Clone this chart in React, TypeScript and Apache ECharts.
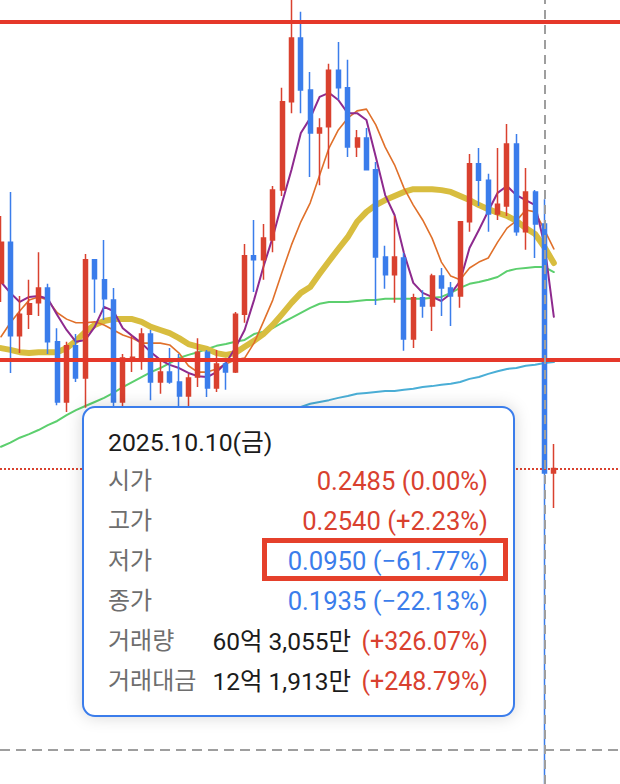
import React, { useEffect, useRef } from "react";
import * as echarts from "echarts";

// OHLC per trading day (index 58 = 2025.10.10)
const opens = [
  0.2355, 0.2445, 0.2238, 0.2286, 0.2311, 0.2344, 0.2225, 0.2092, 0.2216, 0.2145,
  0.2406, 0.2362, 0.2317, 0.2092, 0.2185, 0.2185, 0.2242, 0.2136, 0.2158, 0.2136,
  0.2105, 0.2147, 0.2202, 0.2123, 0.2176, 0.2158, 0.2286, 0.2415, 0.2406, 0.2450,
  0.2560, 0.2755, 0.2896, 0.2781, 0.2686, 0.2700, 0.2825, 0.2786, 0.2655, 0.2675,
  0.2605, 0.2412, 0.2373, 0.2410, 0.2231, 0.2322, 0.2304, 0.2370, 0.2344, 0.2326,
  0.2490, 0.2618, 0.2582, 0.2507, 0.2525, 0.2662, 0.2468, 0.2556, 0.2485, 0.1935,
];
const closes = [
  0.2445, 0.2238, 0.2286, 0.2309, 0.2344, 0.2225, 0.2092, 0.2216, 0.2145, 0.2406,
  0.2364, 0.2320, 0.2092, 0.2189, 0.2191, 0.2242, 0.2136, 0.2158, 0.2136, 0.2105,
  0.2145, 0.2202, 0.2123, 0.2176, 0.2158, 0.2286, 0.2415, 0.2406, 0.2454, 0.2560,
  0.2755, 0.2896, 0.2781, 0.2686, 0.2697, 0.2825, 0.2786, 0.2655, 0.2675, 0.2605,
  0.2412, 0.2373, 0.2412, 0.2231, 0.2322, 0.2304, 0.2370, 0.2344, 0.2326, 0.2490,
  0.2618, 0.2582, 0.2507, 0.2529, 0.2662, 0.2468, 0.2556, 0.2485, 0.1935, 0.1945,
];
const lows = [
  0.2313, 0.2156, 0.2200, 0.2253, 0.2282, 0.2198, 0.2085, 0.2070, 0.2136, 0.2079,
  0.2289, 0.2273, 0.2081, 0.2070, 0.2158, 0.2163, 0.2096, 0.2110, 0.2132, 0.2070,
  0.2074, 0.2125, 0.2103, 0.2114, 0.2119, 0.2156, 0.2267, 0.2335, 0.2362, 0.2423,
  0.2547, 0.2730, 0.2730, 0.2589, 0.2571, 0.2607, 0.2759, 0.2633, 0.2633, 0.2605,
  0.2306, 0.2342, 0.2311, 0.2205, 0.2211, 0.2278, 0.2249, 0.2282, 0.2260, 0.2300,
  0.2468, 0.2525, 0.2468, 0.2494, 0.2503, 0.2459, 0.2428, 0.2410, 0.0950, 0.1858,
];
const highs = [
  0.2503, 0.2556, 0.2326, 0.2362, 0.2423, 0.2353, 0.2255, 0.2225, 0.2242, 0.2419,
  0.2406, 0.2450, 0.2344, 0.2198, 0.2238, 0.2255, 0.2251, 0.2183, 0.2211, 0.2198,
  0.2154, 0.2233, 0.2207, 0.2207, 0.2180, 0.2291, 0.2441, 0.2494, 0.2485, 0.2569,
  0.2786, 0.3010, 0.2954, 0.2821, 0.2719, 0.2839, 0.2887, 0.2848, 0.2693, 0.2697,
  0.2622, 0.2437, 0.2503, 0.2421, 0.2331, 0.2339, 0.2375, 0.2388, 0.2357, 0.2490,
  0.2640, 0.2653, 0.2596, 0.2653, 0.2706, 0.2684, 0.2609, 0.2560, 0.2540, 0.1999,
];

// moving averages
const ma5 = [
  0.2357, 0.2333, 0.2313, 0.2324, 0.2326, 0.2320, 0.2284, 0.2251, 0.2225, 0.2229,
  0.2258, 0.2302, 0.2293, 0.2255, 0.2238, 0.2222, 0.2202, 0.2185, 0.2174, 0.2167,
  0.2156, 0.2149, 0.2147, 0.2158, 0.2178, 0.2211, 0.2251, 0.2317, 0.2390, 0.2456,
  0.2532, 0.2605, 0.2686, 0.2719, 0.2766, 0.2775, 0.2759, 0.2730, 0.2730, 0.2715,
  0.2633, 0.2549, 0.2505, 0.2421, 0.2355, 0.2333, 0.2324, 0.2315, 0.2331, 0.2359,
  0.2432, 0.2472, 0.2514, 0.2554, 0.2569, 0.2549, 0.2538, 0.2527, 0.2439, 0.2280,
];
const ma10 = [
  0.2236, 0.2267, 0.2293, 0.2317, 0.2324, 0.2317, 0.2289, 0.2275, 0.2267, 0.2267,
  0.2269, 0.2262, 0.2251, 0.2240, 0.2233, 0.2222, 0.2222, 0.2222, 0.2218, 0.2200,
  0.2172, 0.2158, 0.2158, 0.2165, 0.2176, 0.2185, 0.2189, 0.2222, 0.2269, 0.2317,
  0.2379, 0.2439, 0.2490, 0.2532, 0.2593, 0.2653, 0.2693, 0.2719, 0.2735, 0.2739,
  0.2704, 0.2655, 0.2616, 0.2565, 0.2527, 0.2494, 0.2454, 0.2401, 0.2370, 0.2362,
  0.2388, 0.2401, 0.2410, 0.2445, 0.2476, 0.2492, 0.2516, 0.2512, 0.2472, 0.2430,
];
const ma20 = [
  0.2211, 0.2207, 0.2202, 0.2200, 0.2202, 0.2202, 0.2202, 0.2211, 0.2227, 0.2247,
  0.2262, 0.2271, 0.2275, 0.2275, 0.2275, 0.2269, 0.2258, 0.2251, 0.2244, 0.2233,
  0.2220, 0.2214, 0.2209, 0.2200, 0.2196, 0.2200, 0.2214, 0.2227, 0.2242, 0.2262,
  0.2286, 0.2311, 0.2333, 0.2346, 0.2375, 0.2403, 0.2430, 0.2456, 0.2490, 0.2512,
  0.2527, 0.2538, 0.2547, 0.2556, 0.2562, 0.2562, 0.2562, 0.2560, 0.2556, 0.2547,
  0.2538, 0.2527, 0.2518, 0.2510, 0.2503, 0.2492, 0.2476, 0.2463, 0.2434, 0.2399,
];
const ma60 = [
  0.1993, 0.2002, 0.2013, 0.2021, 0.2030, 0.2041, 0.2050, 0.2063, 0.2074, 0.2083,
  0.2092, 0.2101, 0.2112, 0.2125, 0.2136, 0.2147, 0.2158, 0.2167, 0.2178, 0.2189,
  0.2196, 0.2202, 0.2209, 0.2216, 0.2220, 0.2225, 0.2229, 0.2242, 0.2247, 0.2255,
  0.2267, 0.2278, 0.2289, 0.2300, 0.2309, 0.2313, 0.2313, 0.2313, 0.2315, 0.2317,
  0.2317, 0.2320, 0.2320, 0.2320, 0.2320, 0.2320, 0.2322, 0.2324, 0.2333, 0.2344,
  0.2353, 0.2357, 0.2362, 0.2368, 0.2381, 0.2386, 0.2388, 0.2390, 0.2390, 0.2379,
];
// MA120 only begins partway through the window (hidden under the tooltip at first)
const ma120 = [
  null, null, null, null, null, null, null, null, null, null,
  0.1995, 0.1999, 0.2004, 0.2008, 0.2012, 0.2017, 0.2021, 0.2026, 0.2030, 0.2035,
  0.2039, 0.2043, 0.2048, 0.2052, 0.2057, 0.2061, 0.2066, 0.2070, 0.2072, 0.2074,
  0.2077, 0.2079, 0.2081, 0.2088, 0.2092, 0.2096, 0.2101, 0.2105, 0.2110, 0.2112,
  0.2114, 0.2116, 0.2116, 0.2119, 0.2121, 0.2125, 0.2127, 0.2130, 0.2132, 0.2136,
  0.2143, 0.2147, 0.2154, 0.2160, 0.2165, 0.2167, 0.2172, 0.2174, 0.2178, 0.2180,
];

// horizontal price levels
const levelLines = [0.2931, 0.2185];
const lastPrice = 0.1945;
const crossIndex = 58;
const crossPrice = 0.1323;

// tooltip texts
const tipDate = "2025.10.10(금)";
const tipLabels = ["시가", "고가", "저가", "종가", "거래량", "거래대금"];
const tipPrices = ["0.2485 (0.00%)", "0.2540 (+2.23%)", "0.0950 (−61.77%)", "0.1935 (−22.13%)"];
const tipAmounts = ["60억 3,055만", "12억 1,913만"];
const tipAmountChanges = ["(+326.07%)", "(+248.79%)"];

const RED = "#d9412f";
const BLUE = "#3b7deb";
const LINE_RED = "#e5382a";
const FONT = "Roboto, 'Noto Sans CJK KR', sans-serif";

export default function App() {
  const ref = useRef<HTMLDivElement>(null);
  useEffect(() => {
    if (!ref.current) return;
    const chart = echarts.init(ref.current, null, { renderer: "svg" });
    const candleData = opens.map((o, i) => [i, o, closes[i], lows[i], highs[i]]);
    const toLine = (arr: (number | null)[]) =>
      arr.map((v, i) => (v == null ? [i, "-"] : [i, v]));
    const ma = (name: string, arr: (number | null)[], color: string, width: number) => ({
      name,
      type: "line",
      data: toLine(arr),
      showSymbol: false,
      symbol: "none",
      z: 1,
      silent: true,
      lineStyle: { color, width, cap: "round", join: "round" },
    });

    const rowY = [481, 521, 561, 601, 641, 681];
    const graphics: any[] = [
      {
        type: "rect",
        z: 100,
        shape: { x: 83, y: 407, width: 431, height: 309, r: 12 },
        style: {
          fill: "#ffffff",
          stroke: BLUE,
          lineWidth: 2,
          shadowBlur: 16,
          shadowColor: "rgba(0,0,0,0.16)",
        },
      },
      {
        type: "text",
        z: 101,
        x: 108,
        y: 442,
        style: {
          text: tipDate,
          fontSize: 24.8,
          fontFamily: FONT,
          fill: "#1b1b1b",
          align: "left",
          verticalAlign: "middle",
        },
      },
    ];
    tipLabels.forEach((lab, k) => {
      graphics.push({
        type: "text",
        z: 101,
        x: 108,
        y: rowY[k],
        style: {
          text: lab,
          fontSize: 24,
          fontFamily: FONT,
          fill: "#6e6e6e",
          align: "left",
          verticalAlign: "middle",
        },
      });
    });
    tipPrices.forEach((t, k) => {
      graphics.push({
        type: "text",
        z: 101,
        x: 488,
        y: rowY[k],
        style: {
          text: t,
          fontSize: 25.6,
          fontFamily: FONT,
          fill: k < 2 ? RED : BLUE,
          align: "right",
          verticalAlign: "middle",
        },
      });
    });
    tipAmounts.forEach((t, k) => {
      graphics.push({
        type: "text",
        z: 101,
        x: 351,
        y: rowY[4 + k],
        style: {
          text: t,
          fontSize: 24.5,
          fontFamily: FONT,
          fill: "#1b1b1b",
          align: "right",
          verticalAlign: "middle",
        },
      });
      graphics.push({
        type: "text",
        z: 101,
        x: 488,
        y: rowY[4 + k],
        style: {
          text: tipAmountChanges[k],
          fontSize: 25,
          fontFamily: FONT,
          fill: RED,
          align: "right",
          verticalAlign: "middle",
        },
      });
    });
    graphics.push({
      type: "rect",
      z: 102,
      shape: { x: 264.5, y: 540.5, width: 241, height: 38 },
      style: { fill: "transparent", stroke: "#e5402b", lineWidth: 5 },
    });

    chart.setOption({
      animation: false,
      grid: { left: 0, right: 0, top: 0, bottom: 0, containLabel: false },
      xAxis: {
        type: "value",
        min: -0.107,
        max: 66.06,
        show: false,
        splitLine: { show: false },
      },
      yAxis: {
        type: "value",
        min: 0.1248,
        max: 0.298,
        show: false,
        splitLine: { show: false },
      },
      series: [
        ma("MA120", ma120, "#4aaed6", 2),
        ma("MA60", ma60, "#5ccf6e", 2),
        ma("MA20", ma20, "#d8bd3f", 6),
        ma("MA10", ma10, "#e0702a", 1.6),
        ma("MA5", ma5, "#8e2a8e", 2),
        {
          name: "candle",
          type: "candlestick",
          z: 3,
          data: candleData,
          barWidth: 4.5,
          silent: true,
          itemStyle: {
            color: RED,
            color0: BLUE,
            borderColor: RED,
            borderColor0: BLUE,
            borderWidth: 1.5,
          },
          markLine: {
            silent: true,
            precision: 6,
            symbol: ["none", "none"],
            label: { show: false },
            animation: false,
            data: [
              ...levelLines.map((v) => ({
                yAxis: v,
                lineStyle: { color: LINE_RED, width: 4, type: "solid" },
              })),
              {
                yAxis: lastPrice,
                lineStyle: { color: RED, width: 1.8, type: [2, 2] },
              },
              {
                yAxis: crossPrice,
                lineStyle: { color: "#9e9e9e", width: 2, type: [10, 6] },
              },
              {
                xAxis: crossIndex,
                lineStyle: { color: "#9e9e9e", width: 2, type: [9, 6] },
              },
            ],
          },
        },
      ],
      graphic: graphics,
    });
    return () => chart.dispose();
  }, []);
  return (
    <div
      ref={ref}
      style={{ position: "absolute", left: 0, top: 0, width: 620, height: 784, background: "#fff" }}
    />
  );
}
